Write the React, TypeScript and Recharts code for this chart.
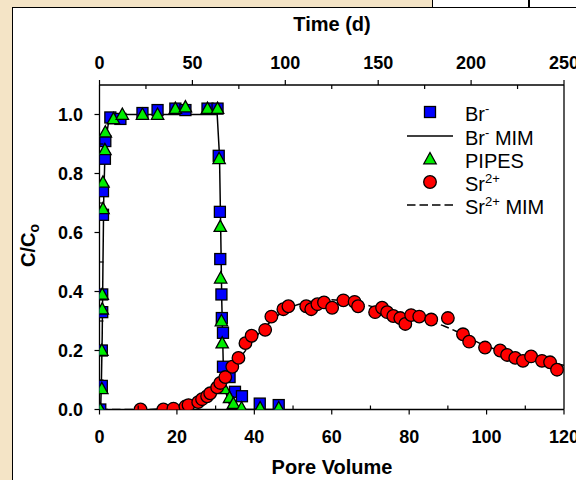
import React from 'react';
import { ComposedChart, XAxis, YAxis, Scatter, Line, ReferenceLine, Legend } from 'recharts';

const FONT = '"Liberation Sans", Arial, Helvetica, sans-serif';

// Br- (squares)
const brPoreVolume = [0.2, 0.6, 0.6, 0.7, 0.7, 0.9, 0.9, 1.4, 1.5, 2.8, 5.4, 11.1, 15.0, 19.6, 22.2, 27.9, 30.5,
  30.8, 31.1, 31.2, 31.5, 31.6, 31.9, 31.9, 33.6, 35.0, 36.8, 41.4, 46.3];
const brConc = [0.0, 0.08, 0.2, 0.33, 0.39, 0.66, 0.74, 0.85, 0.91, 0.99, 0.985, 1.005, 1.015, 1.02, 1.015, 1.02, 1.02,
  0.86, 0.67, 0.51, 0.39, 0.31, 0.26, 0.145, 0.11, 0.06, 0.045, 0.02, 0.015];

// PIPES (triangles)
const pipesPoreVolume = [0.2, 0.6, 0.6, 0.7, 0.7, 0.9, 0.9, 1.4, 1.5, 3.6, 5.9, 11.1, 15.0, 19.6, 22.2, 27.9, 30.5,
  30.9, 31.2, 31.3, 31.5, 31.7, 32.3, 33.6, 34.6, 36.7, 41.5, 46.3];
const pipesConc = [0.0, 0.07, 0.2, 0.34, 0.39, 0.68, 0.77, 0.88, 0.94, 0.985, 1.0, 1.0, 1.0, 1.02, 1.025, 1.02, 1.02,
  0.85, 0.62, 0.445, 0.3, 0.225, 0.07, 0.04, 0.02, 0.005, 0.005, 0.005];

// Sr2+ (circles)
const srPoreVolume = [10.6, 16.5, 19.1, 22.2, 23.0, 25.5, 26.5, 27.8, 28.6, 30.4, 31.2, 32.5, 34.3, 35.9, 37.7, 39.3,
  42.8, 44.4, 47.5, 48.8, 53.4, 54.7, 56.3, 58.0, 60.1, 63.0, 65.9, 66.8, 71.2, 73.0, 74.3, 75.9, 77.7, 79.0, 80.5,
  82.6, 85.7, 90.0, 93.9, 95.5, 99.6, 103.5, 105.3, 107.4, 109.4, 111.5, 114.3, 116.4, 118.2];
const srConc = [0.0, 0.0, 0.003, 0.01, 0.015, 0.025, 0.035, 0.045, 0.055, 0.075, 0.09, 0.11, 0.145, 0.175, 0.225, 0.25,
  0.27, 0.315, 0.34, 0.35, 0.35, 0.34, 0.357, 0.363, 0.345, 0.37, 0.365, 0.35, 0.33, 0.345, 0.33, 0.317, 0.31, 0.29, 0.32,
  0.315, 0.305, 0.31, 0.255, 0.23, 0.21, 0.2, 0.185, 0.175, 0.165, 0.18, 0.165, 0.16, 0.135];

// Br- MIM model (solid)
const brMimPoreVolume = [0, 0.3, 0.5, 0.7, 0.9, 1.1, 1.4, 1.8, 2.3, 3.0, 4.5, 30.4, 31.0, 31.3, 31.6, 32.0, 32.6, 33.5, 35.0, 36.5, 47];
const brMimConc = [0, 0, 0.1, 0.25, 0.5, 0.72, 0.86, 0.93, 0.97, 0.99, 1.0, 1.0, 0.86, 0.62, 0.36, 0.14, 0.06, 0.02, 0.005, 0, 0];

// Sr2+ MIM model (dashed)
const srMimPoreVolume = [0, 12, 16, 20, 23, 26, 29, 32, 35, 38, 41, 44, 47, 50, 53, 56, 59, 62, 65, 68, 71, 74, 77, 80,
  83, 86, 89, 92, 95, 98, 101, 104, 107, 110, 113, 116, 120];
const srMimConc = [0, 0, 0.002, 0.007, 0.015, 0.03, 0.055, 0.095, 0.15, 0.205, 0.255, 0.295, 0.328, 0.35, 0.362, 0.369,
  0.372, 0.37, 0.365, 0.357, 0.347, 0.337, 0.326, 0.316, 0.306, 0.296, 0.283, 0.266, 0.246, 0.226, 0.21, 0.197, 0.185,
  0.176, 0.168, 0.16, 0.15];

const pvTicks = [0, 10, 20, 30, 40, 50, 60, 70, 80, 90, 100, 110, 120];
// Time axis: 250 d corresponds to 120 pore volumes
const timeTicks = [0, 25, 50, 75, 100, 125, 150, 175, 200, 225, 250];
const DAYS_PER_PV = 250 / 120;
const timeTickPositions = timeTicks.map((t) => t / DAYS_PER_PV);
const concTicks = [0, 0.1, 0.2, 0.3, 0.4, 0.5, 0.6, 0.7, 0.8, 0.9, 1.0];

const zip = (xs: number[], ys: number[]) => xs.map((pv, i) => ({ pv, c: ys[i] }));
const brData = zip(brPoreVolume, brConc);
const pipesData = zip(pipesPoreVolume, pipesConc);
const srData = zip(srPoreVolume, srConc);
const brMimData = zip(brMimPoreVolume, brMimConc);
const srMimData = zip(srMimPoreVolume, srMimConc);

const BLUE = '#0000FF';
const GREEN = '#00EE00';
const RED = '#FF0000';

const SquareShape = (p: any) => (
  <rect x={p.cx - 5.5} y={p.cy - 5.5} width={11} height={11} fill={BLUE} stroke="#000" strokeWidth={1.3} />
);
const TriangleShape = (p: any) => (
  <polygon points={`${p.cx},${p.cy - 6.5} ${p.cx - 6.2},${p.cy + 4.8} ${p.cx + 6.2},${p.cy + 4.8}`} fill={GREEN} stroke="#000" strokeWidth={1.3} />
);
const CircleShape = (p: any) => (
  <circle cx={p.cx} cy={p.cy} r={6.3} fill={RED} stroke="#000" strokeWidth={1.3} />
);

const BottomTick = (props: any) => {
  const { x, y, payload } = props;
  const v = payload.value;
  const major = v % 20 === 0;
  return (
    <g>
      <line x1={x} x2={x} y1={y} y2={major ? y + 5 : y - 4} stroke="#000" strokeWidth={1.2} />
      {major && (
        <text x={x} y={y + 33.5} textAnchor="middle" fontSize={18} fontWeight="bold" fill="#000" fontFamily={FONT}>{v}</text>
      )}
    </g>
  );
};

const TopTick = (props: any) => {
  const { x, y, payload } = props;
  const days = Math.round(payload.value * DAYS_PER_PV);
  const major = days % 50 === 0;
  return (
    <g>
      <line x1={x} x2={x} y1={y} y2={major ? y - 5 : y + 4} stroke="#000" strokeWidth={1.2} />
      {major && (
        <text x={x} y={y - 16.5} textAnchor="middle" fontSize={18} fontWeight="bold" fill="#000" fontFamily={FONT}>{days}</text>
      )}
    </g>
  );
};

const LeftTick = (props: any) => {
  const { x, y, payload } = props;
  const v = payload.value;
  const major = Math.round(v * 10) % 2 === 0;
  return (
    <g>
      <line x1={x} x2={major ? x - 5 : x + 4} y1={y} y2={y} stroke="#000" strokeWidth={1.2} />
      {major && (
        <text x={x - 16.5} y={y + 6.5} textAnchor="end" fontSize={18} fontWeight="bold" fill="#000" fontFamily={FONT}>{v.toFixed(1)}</text>
      )}
    </g>
  );
};

const PoreLabel = () => (
  <text x={332} y={474} textAnchor="middle" fontSize={20} fontWeight="bold" fill="#000" fontFamily={FONT}>Pore Volume</text>
);
const TimeLabel = () => (
  <text x={332} y={31} textAnchor="middle" fontSize={20} fontWeight="bold" fill="#000" fontFamily={FONT}>Time (d)</text>
);
const ConcLabel = () => (
  <text x={35} y={245.5} transform="rotate(-90, 35, 245.5)" textAnchor="middle" fontSize={20} fontWeight="bold" fill="#000" fontFamily={FONT}>
    C/C<tspan fontSize={14} dy={4}>o</tspan>
  </text>
);

const LegendContent = () => {
  const rows = [14, 38, 61, 84, 107];
  const tx = 65;
  const txt = { fontSize: 20, fill: '#000', fontFamily: FONT } as any;
  return (
    <svg width={170} height={125} style={{ overflow: 'visible' }}>
      <rect x={24.5} y={rows[0] - 5.5} width={11} height={11} fill={BLUE} stroke="#000" strokeWidth={1.3} />
      <text x={tx} y={rows[0] + 8.5} {...txt}>Br<tspan fontSize={13} dy={-8}>-</tspan></text>

      <line x1={7} x2={53} y1={rows[1]} y2={rows[1]} stroke="#000" strokeWidth={1.5} />
      <text x={tx} y={rows[1] + 8.5} {...txt}>Br<tspan fontSize={13} dy={-8}>-</tspan><tspan dy={8}> MIM</tspan></text>

      <polygon points={`30,${rows[2] - 6.5} ${23.8},${rows[2] + 4.8} ${36.2},${rows[2] + 4.8}`} fill={GREEN} stroke="#000" strokeWidth={1.3} />
      <text x={tx} y={rows[2] + 8.5} {...txt}>PIPES</text>

      <circle cx={30} cy={rows[3]} r={6.3} fill={RED} stroke="#000" strokeWidth={1.3} />
      <text x={tx} y={rows[3] + 8.5} {...txt}>Sr<tspan fontSize={13} dy={-8}>2+</tspan></text>

      <line x1={7} x2={53} y1={rows[4]} y2={rows[4]} stroke="#000" strokeWidth={1.5} strokeDasharray="8.5 4" />
      <text x={tx} y={rows[4] + 8.5} {...txt}>Sr<tspan fontSize={13} dy={-8}>2+</tspan><tspan dy={8}> MIM</tspan></text>
    </svg>
  );
};

export default function App() {
  return (
    <div style={{ position: 'absolute', left: 0, top: 0, width: 576, height: 480, overflow: 'hidden', background: '#F4E4C6' }}>
      <div style={{ position: 'absolute', left: 12, top: 7, width: 600, height: 500, background: '#FFFFFF', borderLeft: '1.6px solid #000', borderTop: '1.6px solid #000' }} />
      <div style={{ position: 'absolute', left: 432, top: 0, width: 150, height: 7, background: '#FFFFFF', borderLeft: '1.6px solid #000' }} />
      <div style={{ position: 'absolute', left: 528, top: 0, width: 1.6, height: 7, background: '#000' }} />
      <div style={{ position: 'absolute', left: 0, top: 0 }}>
        <ComposedChart width={576} height={480} margin={{ top: 55, right: 12, bottom: 30.5, left: 39.5 }}>
          <XAxis
            xAxisId={0}
            type="number"
            dataKey="pv"
            domain={[0, 120]}
            ticks={pvTicks}
            interval={0}
            height={40}
            tickSize={0}
            tickMargin={0}
            tickLine={false}
            tick={<BottomTick />}
            axisLine={{ stroke: '#000', strokeWidth: 1.3 }}
            allowDataOverflow
            label={<PoreLabel />}
          />
          <XAxis
            xAxisId="time"
            orientation="top"
            type="number"
            dataKey="pv"
            domain={[0, 120]}
            ticks={timeTickPositions}
            interval={0}
            height={30}
            tickSize={0}
            tickMargin={0}
            tickLine={false}
            tick={<TopTick />}
            axisLine={{ stroke: '#000', strokeWidth: 1.3 }}
            allowDataOverflow
            label={<TimeLabel />}
          />
          <YAxis
            type="number"
            dataKey="c"
            domain={[0, 1.1]}
            ticks={concTicks}
            interval={0}
            width={60}
            tickSize={0}
            tickMargin={0}
            tickLine={false}
            tick={<LeftTick />}
            axisLine={{ stroke: '#000', strokeWidth: 1.3 }}
            allowDataOverflow
            label={<ConcLabel />}
          />
          <ReferenceLine x={120} stroke="#000" strokeWidth={1.3} />
          <Scatter name="Br-" data={brData} shape={SquareShape} isAnimationActive={false} />
          <Scatter name="PIPES" data={pipesData} shape={TriangleShape} isAnimationActive={false} />
          <Scatter name="Sr2+" data={srData} shape={CircleShape} isAnimationActive={false} />
          <Line name="Br- MIM" xAxisId="time" data={brMimData} dataKey="c" type="linear" stroke="#000" strokeWidth={1.5} dot={false} activeDot={false} isAnimationActive={false} />
          <Line name="Sr2+ MIM" data={srMimData} dataKey="c" type="monotone" stroke="#000" strokeWidth={1.5} strokeDasharray="8.5 4" dot={false} activeDot={false} isAnimationActive={false} />
          <Legend
            layout="vertical"
            align="center"
            verticalAlign="middle"
            content={<LegendContent />}
            wrapperStyle={{ left: 400, top: 98, width: 170, height: 125 }}
          />
        </ComposedChart>
      </div>
    </div>
  );
}
